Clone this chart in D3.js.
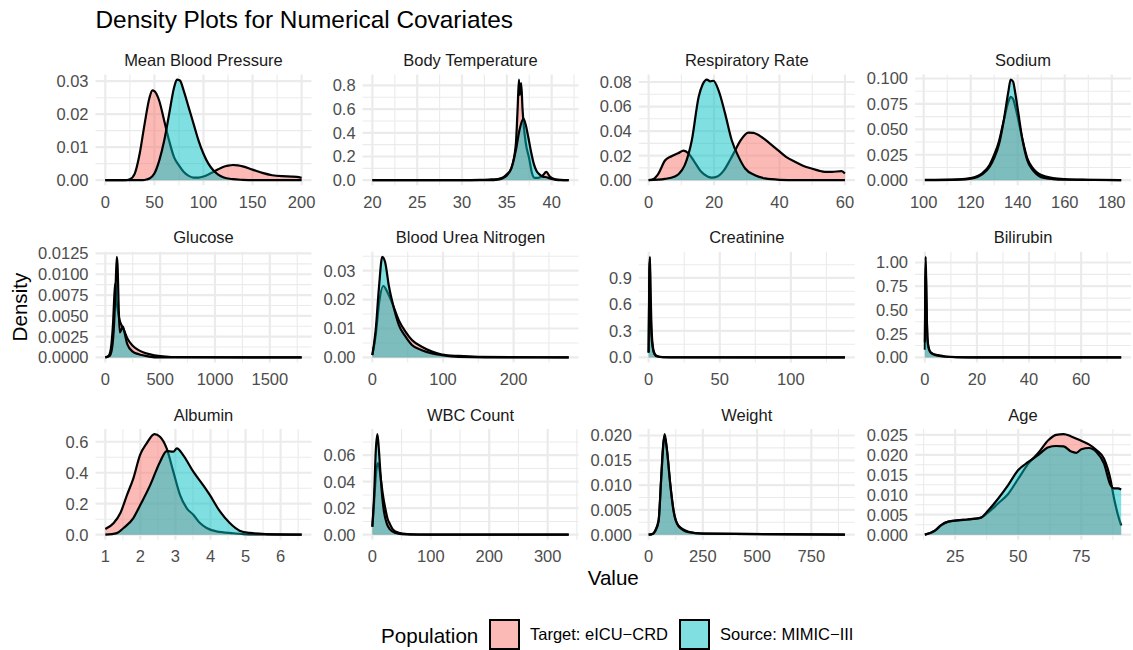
<!DOCTYPE html>
<html lang="en">
<head>
<meta charset="UTF-8">
<title>Density Plots for Numerical Covariates</title>
<script src="https://d3js.org/d3.v7.min.js"></script>
<style>
  body { margin: 0; background: #fff; }
  svg { display: block; font-family: "Liberation Sans", Arial, sans-serif; }
  .grid-major { stroke: #ebebeb; stroke-width: 2.2; }
  .grid-minor { stroke: #ebebeb; stroke-width: 1.1; }
  .tick-label { fill: #4d4d4d; font-size: 16.5px; }
  .strip { fill: #1a1a1a; font-size: 16.5px; }
  .curve { fill: none; stroke: #000; stroke-width: 2.2; stroke-linejoin: round; }
</style>
</head>
<body>
<svg width="1133" height="650"></svg>
<script>
// panels, in facet order
const panelNames = ["Mean Blood Pressure", "Body Temperature", "Respiratory Rate", "Sodium",
  "Glucose", "Blood Urea Nitrogen", "Creatinine", "Bilirubin",
  "Albumin", "WBC Count", "Weight", "Age"];

const xTicks = [
  [0, 50, 100, 150, 200], [20, 25, 30, 35, 40], [0, 20, 40, 60], [100, 120, 140, 160, 180],
  [0, 500, 1000, 1500], [0, 100, 200], [0, 50, 100], [0, 20, 40, 60],
  [1, 2, 3, 4, 5, 6], [0, 100, 200, 300], [0, 250, 500, 750], [25, 50, 75]
];

const yTickLabels = [
  ["0.00", "0.01", "0.02", "0.03"], ["0.0", "0.2", "0.4", "0.6", "0.8"],
  ["0.00", "0.02", "0.04", "0.06", "0.08"], ["0.000", "0.025", "0.050", "0.075", "0.100"],
  ["0.0000", "0.0025", "0.0050", "0.0075", "0.0100", "0.0125"], ["0.00", "0.01", "0.02", "0.03"],
  ["0.0", "0.3", "0.6", "0.9"], ["0.00", "0.25", "0.50", "0.75", "1.00"],
  ["0.0", "0.2", "0.4", "0.6"], ["0.00", "0.02", "0.04", "0.06"],
  ["0.000", "0.005", "0.010", "0.015", "0.020"], ["0.000", "0.005", "0.010", "0.015", "0.020", "0.025"]
];

// density estimates: [value, density]
const mbpTarget = [[0,0],[20,0],[25,0.0003],[30,0.002],[35,0.008],[40,0.017],[45,0.025],[48,0.0272],[50,0.027],[55,0.024],[60,0.018],[65,0.012],[70,0.007],[75,0.0045],[80,0.0025],[85,0.0013],[90,0.0008],[95,0.0008],[100,0.0011],[105,0.0017],[110,0.0025],[115,0.0033],[120,0.004],[125,0.0044],[130,0.0046],[135,0.0045],[140,0.0042],[150,0.0032],[160,0.0022],[170,0.0015],[180,0.0012],[190,0.0011],[195,0.001],[200,0.0007]];
const mbpSource = [[0,0],[38,0],[42,0.0002],[45,0.0005],[50,0.002],[55,0.006],[60,0.012],[65,0.02],[70,0.028],[73,0.0305],[76,0.0302],[80,0.027],[85,0.022],[90,0.017],[95,0.012],[100,0.008],[105,0.005],[110,0.003],[115,0.0017],[120,0.0009],[130,0.0003],[140,0.0001],[150,0],[200,0]];

const tempTarget = [[20,0],[30,0],[32,0.002],[33,0.005],[34,0.01],[34.5,0.02],[35,0.05],[35.5,0.1],[36,0.3],[36.2,0.6],[36.35,0.85],[36.45,0.72],[36.6,0.82],[36.75,0.6],[36.9,0.45],[37.1,0.32],[37.5,0.18],[37.8,0.06],[38.1,0.02],[38.5,0.02],[39,0.04],[39.4,0.07],[39.8,0.03],[40.3,0.01],[41,0.002],[41.9,0]];
const tempSource = [[20,0],[33,0],[34,0.005],[34.5,0.015],[35,0.04],[35.5,0.1],[36,0.25],[36.4,0.42],[36.85,0.52],[37.1,0.47],[37.4,0.36],[37.7,0.24],[38,0.14],[38.3,0.08],[38.7,0.045],[39,0.03],[39.4,0.025],[40,0.01],[40.5,0.003],[41,0],[41.9,0]];

const rrTarget = [[0,0],[1.5,0.001],[3,0.0054],[5,0.016],[7,0.0195],[9,0.022],[10.7,0.024],[12.2,0.0217],[14,0.015],[16,0.007],[18,0.003],[19.3,0.002],[21,0.003],[23,0.008],[25,0.017],[26.4,0.024],[28,0.032],[30.5,0.0388],[32,0.0385],[34.6,0.035],[37,0.03],[39.7,0.024],[42,0.019],[44.7,0.015],[47,0.012],[49.8,0.0095],[52,0.0078],[53.9,0.0068],[56,0.0068],[59,0.0073],[60,0.0054]];
const rrSource = [[0,0],[5,0.001],[8,0.003],[9.2,0.005],[11,0.012],[13.2,0.0325],[15.3,0.068],[16.5,0.078],[17.8,0.082],[18.8,0.0805],[19.8,0.081],[21.4,0.073],[23.4,0.054],[25.4,0.0325],[27.5,0.019],[29.5,0.0095],[32.5,0.004],[35.6,0.0014],[40,0.0003],[45,0],[60,0]];

const naTarget = [[100.5,0.0002],[115,0.0008],[120,0.002],[125,0.007],[128,0.015],[130,0.025],[132,0.038],[134,0.058],[136,0.077],[137,0.082],[138,0.08],[139,0.072],[140,0.062],[142,0.04],[144,0.022],[146,0.013],[148,0.008],[150,0.005],[152,0.0035],[155,0.002],[160,0.001],[170,0.0004],[184,0]];
const naSource = [[100.5,0],[115,0.0005],[120,0.0015],[125,0.006],[128,0.013],[130,0.022],[132,0.035],[134,0.058],[136,0.087],[137,0.099],[138,0.097],[139,0.085],[140,0.07],[142,0.04],[144,0.02],[146,0.011],[148,0.006],[150,0.003],[155,0.001],[160,0.0004],[184,0]];

const gluTarget = [[0,0],[30,0.0002],[50,0.001],[70,0.004],[85,0.008],[92,0.0089],[100,0.007],[110,0.006],[130,0.0045],[150,0.0038],[170,0.0033],[200,0.0023],[250,0.0014],[300,0.0009],[350,0.0006],[400,0.0004],[500,0.00015],[600,0.00005],[1790,0]];
const gluSource = [[0,0],[40,0.0002],[60,0.001],[80,0.004],[95,0.009],[105,0.0121],[112,0.011],[122,0.006],[132,0.003],[145,0.0033],[160,0.0037],[175,0.003],[200,0.0016],[250,0.0007],[300,0.0004],[400,0.0001],[500,0],[1790,0]];

const bunTarget = [[0,0.0008],[4.7,0.0077],[9.4,0.0187],[15.5,0.0247],[21,0.0227],[28,0.0188],[37.5,0.0128],[47,0.0088],[56,0.006],[70,0.0037],[84.5,0.002],[98.6,0.001],[122,0.0005],[150,0.0002],[200,0.0001],[278,0]];
const bunSource = [[0,0.0008],[4.7,0.0095],[9.4,0.0245],[14,0.0348],[18,0.033],[23.5,0.0245],[30.5,0.017],[37.5,0.0112],[47,0.0072],[56,0.0043],[70,0.0025],[84.5,0.0014],[98.6,0.0008],[122,0.0002],[200,0],[278,0]];

const creTarget = [[0,0.05],[0.5,0.9],[0.9,1.14],[1.3,0.8],[2,0.35],[3,0.12],[4,0.05],[6,0.015],[10,0.003],[20,0.0005],[138,0]];
const creSource = [[0,0.06],[0.5,1.0],[0.8,1.12],[1.2,0.7],[2,0.25],[3,0.1],[4,0.04],[6,0.01],[10,0.002],[138,0]];

const bilTarget = [[0,0.08],[0.15,0.8],[0.3,1.06],[0.5,0.8],[0.8,0.35],[1.2,0.12],[2,0.06],[3,0.04],[5,0.025],[8,0.01],[12,0.004],[20,0.001],[75.4,0]];
const bilSource = [[0,0.16],[0.2,0.7],[0.35,0.95],[0.6,0.6],[1,0.2],[1.5,0.1],[2,0.06],[3,0.035],[5,0.018],[8,0.007],[12,0.002],[20,0.0005],[75.4,0]];

const albTarget = [[1,0.036],[1.24,0.075],[1.43,0.14],[1.62,0.257],[1.8,0.364],[1.99,0.514],[2.18,0.59],[2.4,0.65],[2.56,0.632],[2.75,0.557],[2.94,0.407],[3.13,0.257],[3.32,0.171],[3.51,0.129],[3.7,0.075],[3.89,0.043],[4.17,0.021],[4.65,0.009],[5.1,0.002],[6.6,0]];
const albSource = [[1,0],[1.33,0.01],[1.52,0.043],[1.8,0.107],[2,0.193],[2.28,0.32],[2.56,0.47],[2.75,0.54],[2.94,0.536],[3.04,0.557],[3.22,0.514],[3.51,0.407],[3.79,0.32],[3.98,0.257],[4.27,0.15],[4.55,0.075],[4.83,0.026],[5.12,0.011],[5.6,0.004],[6.6,0]];

const wbcTarget = [[0,0.006],[3,0.025],[6,0.045],[9,0.054],[12,0.05],[15,0.04],[18,0.03],[22,0.02],[26,0.012],[30,0.008],[35,0.004],[45,0.0015],[60,0.0005],[100,0.0001],[336,0]];
const wbcSource = [[0,0.006],[3,0.03],[6,0.065],[8.6,0.076],[11,0.065],[14,0.045],[17,0.028],[20,0.017],[25,0.008],[30,0.004],[40,0.0012],[50,0.0004],[80,0],[336,0]];

const wtTarget = [[0,0],[20,0.0002],[30,0.0008],[46,0.0029],[58,0.0115],[66,0.0175],[72,0.0198],[78,0.019],[84,0.0172],[100,0.0101],[115,0.0049],[138,0.0018],[184,0.0006],[250,0.0002],[905,0]];
const wtSource = [[0,0],[20,0.0002],[30,0.0007],[46,0.0027],[58,0.0113],[69,0.0187],[74,0.0203],[84,0.0173],[100,0.01],[115,0.0047],[138,0.0017],[184,0.0005],[250,0.0002],[905,0]];

const ageTarget = [[13,0],[17,0.001],[19.5,0.0024],[22,0.0032],[26,0.0036],[30,0.0038],[35,0.0042],[38,0.0055],[42,0.0078],[46,0.0102],[50,0.014],[54,0.0178],[58,0.0205],[62,0.0237],[65,0.025],[68,0.0252],[71,0.0246],[75,0.0235],[78,0.0226],[81,0.0212],[84,0.019],[86.5,0.014],[88,0.009],[89.5,0.005],[90.8,0.0023]];
const ageSource = [[13,0],[17,0.001],[19.5,0.0024],[22,0.0032],[26,0.0036],[30,0.0038],[35,0.0042],[38,0.006],[42,0.009],[46,0.0124],[50,0.0162],[54,0.0182],[58,0.02],[62,0.0219],[65,0.0222],[68,0.0221],[71,0.0208],[73,0.0205],[75,0.0214],[78,0.0217],[81,0.0207],[84,0.0178],[86.5,0.0125],[88,0.0116],[89.5,0.0116],[90.8,0.0113]];

const targetSeries = [mbpTarget, tempTarget, rrTarget, naTarget, gluTarget, bunTarget, creTarget, bilTarget, albTarget, wbcTarget, wtTarget, ageTarget];
const sourceSeries = [mbpSource, tempSource, rrSource, naSource, gluSource, bunSource, creSource, bilSource, albSource, wbcSource, wtSource, ageSource];

const groups = ["Target: eICU\u2212CRD", "Source: MIMIC\u2212III"];
const groupColors = ["#F8766D", "#00BFC4"];

// ---- layout ----
const svg = d3.select("svg");
const tickFont = 16.5;
const ncol = 4;
const panelH = 110.7;
const rowTop0 = 74.5, rowStep = 177.25;
const left0 = 95.5, rightEdge = 1131;
const spacing = 12, labelGap = 7;

// widest y label in each column decides the axis width
const measurer = svg.append("text").attr("class", "tick-label");
function textW(s) { measurer.text(s); return measurer.node().getComputedTextLength(); }
const colLabelW = d3.range(ncol).map(c =>
  d3.max(d3.range(c, panelNames.length, ncol), i => d3.max(yTickLabels[i], textW)));
measurer.remove();

const gapsTotal = d3.sum(colLabelW.slice(1), w => w + spacing + labelGap);
const panelW = (rightEdge - left0 - gapsTotal) / ncol;
const colLeft = [left0];
for (let c = 1; c < ncol; c++) colLeft.push(colLeft[c - 1] + panelW + spacing + labelGap + colLabelW[c]);

function minorBreaks(major, domain) {
  const step = major[1] - major[0];
  const out = [];
  for (let v = major[0] - step / 2; v <= domain[1]; v += step) if (v >= domain[0]) out.push(v);
  return out;
}

const area = d3.area().curve(d3.curveMonotoneX);
const line = d3.line().curve(d3.curveMonotoneX);

panelNames.forEach((name, i) => {
  const col = i % ncol, row = Math.floor(i / ncol);
  const x0 = colLeft[col], y0 = rowTop0 + row * rowStep;
  const series = [targetSeries[i], sourceSeries[i]];

  const xExt = d3.extent(series.flat(), d => d[0]);
  const xPad = (xExt[1] - xExt[0]) * 0.05;
  const x = d3.scaleLinear().domain([xExt[0] - xPad, xExt[1] + xPad]).range([x0, x0 + panelW]);
  const yMax = d3.max(series.flat(), d => d[1]);
  const y = d3.scaleLinear().domain([-0.05 * yMax, 1.05 * yMax]).range([y0 + panelH, y0]);

  const yTicks = yTickLabels[i].map(Number);
  const g = svg.append("g");

  // grid
  g.selectAll(".gx-minor").data(minorBreaks(xTicks[i], x.domain())).join("line")
    .attr("class", "grid-minor").attr("x1", d => x(d)).attr("x2", d => x(d))
    .attr("y1", y0).attr("y2", y0 + panelH);
  g.selectAll(".gy-minor").data(minorBreaks(yTicks, y.domain())).join("line")
    .attr("class", "grid-minor").attr("y1", d => y(d)).attr("y2", d => y(d))
    .attr("x1", x0).attr("x2", x0 + panelW);
  g.selectAll(".gx").data(xTicks[i]).join("line")
    .attr("class", "grid-major").attr("x1", d => x(d)).attr("x2", d => x(d))
    .attr("y1", y0).attr("y2", y0 + panelH);
  g.selectAll(".gy").data(yTicks).join("line")
    .attr("class", "grid-major").attr("y1", d => y(d)).attr("y2", d => y(d))
    .attr("x1", x0).attr("x2", x0 + panelW);

  // densities: target first, then source on top
  area.x(d => x(d[0])).y0(y(0)).y1(d => y(d[1]));
  line.x(d => x(d[0])).y(d => y(d[1]));
  series.forEach((s, k) => {
    g.append("path").datum(s).attr("d", area)
      .attr("fill", groupColors[k]).attr("fill-opacity", 0.5);
    g.append("path").datum(s).attr("d", line).attr("class", "curve");
  });

  // axis labels
  g.selectAll(".xl").data(xTicks[i]).join("text")
    .attr("class", "tick-label").attr("text-anchor", "middle")
    .attr("x", d => x(d)).attr("y", y0 + panelH + 22.5).text(d => d);
  g.selectAll(".yl").data(yTickLabels[i]).join("text")
    .attr("class", "tick-label").attr("text-anchor", "end")
    .attr("x", x0 - labelGap).attr("y", d => y(+d) + 5.9).text(d => d);

  // strip
  g.append("text").attr("class", "strip").attr("text-anchor", "middle")
    .attr("x", x0 + panelW / 2).attr("y", y0 - 8.5).text(name);
});

// titles
svg.append("text").attr("x", left0).attr("y", 28)
  .attr("font-size", 24.4).attr("fill", "#000").text("Density Plots for Numerical Covariates");
svg.append("text").attr("text-anchor", "middle")
  .attr("x", (left0 + rightEdge) / 2).attr("y", 585)
  .attr("font-size", 20.6).text("Value");
svg.append("text").attr("text-anchor", "middle")
  .attr("transform", `translate(27,${rowTop0 + (2 * rowStep + panelH) / 2}) rotate(-90)`)
  .attr("font-size", 20.6).text("Density");

// legend
const legend = svg.append("g");
const keySize = 31;
legend.append("text").attr("x", 381).attr("y", 643).attr("font-size", 20.6).text("Population");
const keyX = [489, 679];
groups.forEach((lab, k) => {
  legend.append("rect").attr("x", keyX[k]).attr("y", 619).attr("width", keySize).attr("height", keySize)
    .attr("fill", "#fff");
  legend.append("rect").attr("x", keyX[k] + 1).attr("y", 620).attr("width", keySize - 2).attr("height", keySize - 2)
    .attr("fill", groupColors[k]).attr("fill-opacity", 0.5).attr("stroke", "#000").attr("stroke-width", 2);
  legend.append("text").attr("x", keyX[k] + keySize + 10).attr("y", 640)
    .attr("font-size", tickFont).text(lab);
});
</script>
</body>
</html>
